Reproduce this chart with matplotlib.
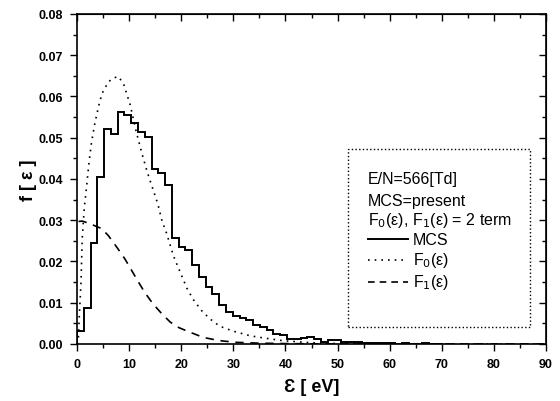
import numpy as np
import matplotlib
matplotlib.use("Agg")
import matplotlib.pyplot as plt
from matplotlib.lines import Line2D
from matplotlib.patches import Rectangle
from matplotlib.ticker import MultipleLocator, FormatStrFormatter

plt.rcParams['font.family'] = ['Liberation Sans', 'DejaVu Sans']

# MCS histogram (bin width in eV, heights per bin starting at 0 eV)
bin_width = 1.3
mcs = [0.0032, 0.0087, 0.0245, 0.0406, 0.0520, 0.0509, 0.0562, 0.0556, 0.0536,
       0.0513, 0.0501, 0.0424, 0.0415, 0.0386, 0.0257, 0.0234, 0.0228, 0.0191,
       0.0162, 0.0137, 0.0121, 0.0095, 0.0077, 0.0068, 0.0063, 0.0057, 0.0046,
       0.0040, 0.0034, 0.0024, 0.0022, 0.0013, 0.0012, 0.0015, 0.0016, 0.0012,
       0.0006, 0.0010, 0.0009, 0.0006, 0.0004, 0.0005, 0.0003, 0.0003, 0.0002,
       0.0003, 0.0002, 0.0001, 0.0002, 0.0001, 0.0001, 0.0002, 0.0001, 0.0001]

# two-term F0(e)
f0_eps = [0, 0.25, 0.45, 0.77, 1.0, 1.4, 1.86, 2.3, 2.8, 3.45, 4.4, 5.0, 6.0, 7.0,
          8.0, 9.0, 10.2, 11.3, 12.5, 13.5, 14.5, 15.5, 16.3, 17.2, 18.5, 19.8,
          21.1, 22.3, 23.9, 25.5, 27.4, 30.0, 33.2, 35.1, 39.5, 45, 50, 60, 90]
f0_val = [0, 0.001, 0.007, 0.015, 0.0255, 0.033, 0.0384, 0.044, 0.049, 0.0537,
          0.059, 0.0612, 0.0635, 0.0645, 0.0648, 0.0628, 0.058, 0.0518, 0.046,
          0.0416, 0.0378, 0.034, 0.0299, 0.0268, 0.0214, 0.0174, 0.0135, 0.0108,
          0.0081, 0.0061, 0.0043, 0.0031, 0.002, 0.0016, 0.0008, 0.0003, 0.0001,
          0, 0]

# two-term F1(e)
f1_eps = [0.3, 1.0, 2.2, 4.1, 4.7, 6.0, 7.9, 9.2, 10.5, 11.8, 13.0, 14.6, 16.3,
          17.9, 19.5, 21.0, 24.2, 27.4, 30.6, 35, 40, 50, 90]
f1_val = [0.0297, 0.0298, 0.0293, 0.0283, 0.028, 0.0263, 0.023, 0.0206, 0.0178,
          0.015, 0.0125, 0.0097, 0.0073, 0.0053, 0.004, 0.0032, 0.0016, 0.0008,
          0.0004, 0.0002, 0.0001, 0, 0]

info_lines = ['E/N=566[Td]', 'MCS=present', 'F$_0$(ε), F$_1$(ε) = 2 term']

fig = plt.figure(figsize=(5.6, 4.02), dpi=100)
ax = fig.add_axes([0.1375, 0.1418, 0.8375, 0.821])

edges = np.arange(len(mcs) + 1) * bin_width
ax.stairs(mcs, edges, color='black', lw=1.4, baseline=0)
ax.plot(f0_eps, f0_val, color='black', lw=1.2, ls=(0, (1, 3)))
ax.plot(f1_eps, f1_val, color='black', lw=1.2, ls=(0, (5, 4)))

ax.set_xlim(0, 90)
ax.set_ylim(0, 0.08)
ax.xaxis.set_major_locator(MultipleLocator(10))
ax.xaxis.set_minor_locator(MultipleLocator(5))
ax.yaxis.set_major_locator(MultipleLocator(0.01))
ax.yaxis.set_minor_locator(MultipleLocator(0.005))
ax.yaxis.set_major_formatter(FormatStrFormatter('%.2f'))
ax.tick_params(which='both', direction='out', width=1)
ax.tick_params(which='major', length=5, labelsize=9, pad=5)
ax.tick_params(which='minor', length=3)
for lab in ax.get_xticklabels() + ax.get_yticklabels():
    lab.set_fontweight('bold')
for s in ax.spines.values():
    s.set_linewidth(1.2)

# inward ticks on top and right
top = ax.secondary_xaxis('top')
top.xaxis.set_major_locator(MultipleLocator(10))
top.xaxis.set_minor_locator(MultipleLocator(5))
top.tick_params(which='both', direction='in', labeltop=False, width=1)
top.tick_params(which='major', length=5)
top.tick_params(which='minor', length=3)
right = ax.secondary_yaxis('right')
right.yaxis.set_major_locator(MultipleLocator(0.01))
right.yaxis.set_minor_locator(MultipleLocator(0.005))
right.tick_params(which='both', direction='in', labelright=False, width=1)
right.tick_params(which='major', length=5)
right.tick_params(which='minor', length=3)

ax.set_xlabel('Ɛ [ eV]', fontsize=13, fontweight='bold', labelpad=6)
ax.set_ylabel('f [ ε ]', fontsize=13, fontweight='bold', labelpad=1)

# legend box
ax.add_patch(Rectangle((0.577, 0.052), 0.389, 0.539, transform=ax.transAxes,
                       fill=False, ls=':', lw=1, ec='black', zorder=5))
text_x = 0.620
row_y = [0.502, 0.436, 0.376, 0.318, 0.255, 0.188]
for txt, y in zip(info_lines, row_y[:3]):
    ax.text(text_x, y, txt, transform=ax.transAxes, fontsize=11.5,
            va='center', ha='left')
entries = [('MCS', '-', 1.4), ('F$_0$(ε)', (0, (1, 3)), 1.2),
           ('F$_1$(ε)', (0, (4, 3)), 1.2)]
for (txt, ls, lw), y in zip(entries, row_y[3:]):
    ax.add_line(Line2D([text_x, 0.706], [y, y], transform=ax.transAxes,
                       color='black', ls=ls, lw=lw))
    ax.text(0.716, y, txt, transform=ax.transAxes, fontsize=11.5,
            va='center', ha='left')

fig.savefig('out.png', dpi=100)
